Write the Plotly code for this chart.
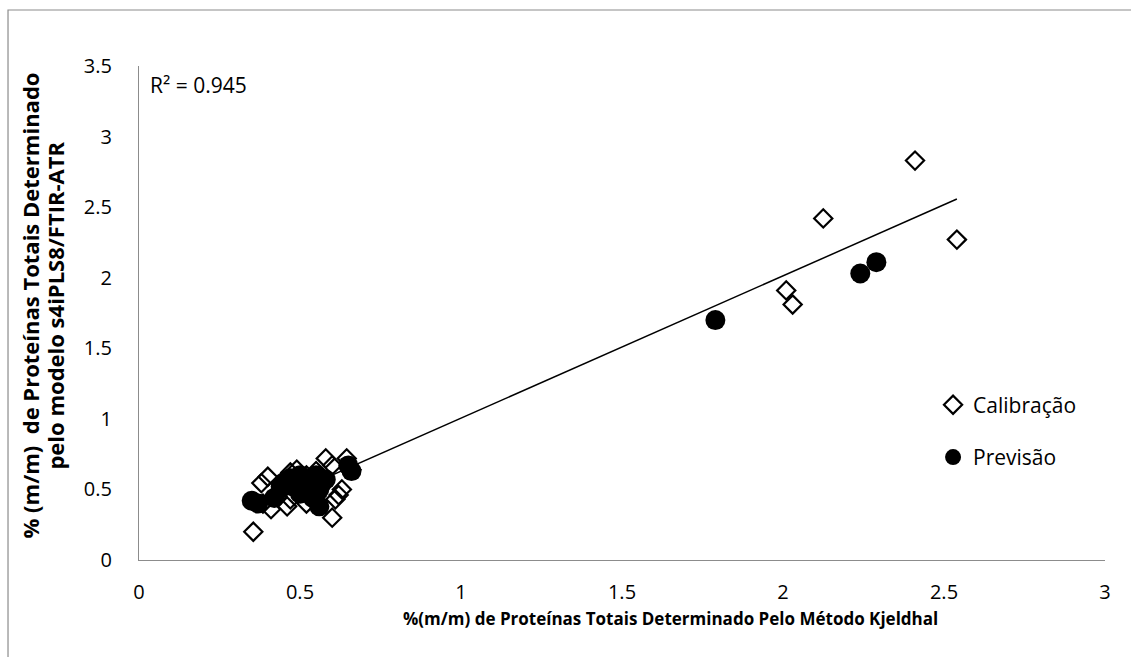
import plotly.graph_objects as go

# Calibration set: Kjeldahl reference vs. model prediction (% m/m)
calib_x = [0.355, 0.38, 0.40, 0.385, 0.41, 0.43, 0.46, 0.47, 0.47, 0.49,
           0.50, 0.52, 0.53, 0.55, 0.56, 0.58, 0.60, 0.645, 0.63, 0.62,
           0.61, 0.60, 0.57, 0.44, 0.52, 0.55, 0.66,
           2.01, 2.03, 2.125, 2.41, 2.54]
calib_y = [0.20, 0.545, 0.59, 0.40, 0.36, 0.45, 0.38, 0.43, 0.62, 0.64,
           0.55, 0.60, 0.48, 0.63, 0.52, 0.72, 0.67, 0.72, 0.50, 0.46,
           0.43, 0.30, 0.58, 0.50, 0.40, 0.45, 0.64,
           1.91, 1.81, 2.42, 2.83, 2.27]

# Prediction (external validation) set
pred_x = [0.35, 0.37, 0.42, 0.45, 0.48, 0.50, 0.52, 0.53, 0.55, 0.54,
          0.56, 0.57, 0.65, 0.66, 0.47, 0.50, 0.51, 0.53, 0.56, 0.58,
          0.44, 0.55, 1.79, 2.24, 2.29]
pred_y = [0.42, 0.40, 0.44, 0.55, 0.52, 0.47, 0.50, 0.56, 0.60, 0.44,
          0.38, 0.55, 0.67, 0.63, 0.58, 0.60, 0.53, 0.47, 0.50, 0.57,
          0.52, 0.56, 1.70, 2.03, 2.11]

# Linear trend of the calibration set
trend_slope = 1.008
trend_intercept = -0.003
r_squared = 0.945

x_ticks = [0, 0.5, 1, 1.5, 2, 2.5, 3]
y_ticks = [0, 0.5, 1, 1.5, 2, 2.5, 3, 3.5]

x_title = "%(m/m) de Proteínas Totais Determinado Pelo Método Kjeldhal"
y_title_lines = ["% (m/m)  de Proteínas Totais Determinado",
                 "pelo modelo s4iPLS8/FTIR-ATR"]

FONT = "Open Sans"
AXIS_GREY = "#8c8c8c"

tx = [min(calib_x), max(calib_x)]
ty = [trend_slope * v + trend_intercept for v in tx]

fig = go.Figure()

fig.add_trace(go.Scatter(
    x=tx, y=ty, mode="lines", showlegend=False, hoverinfo="skip",
    line=dict(color="black", width=1.5),
))

fig.add_trace(go.Scatter(
    x=calib_x, y=calib_y, mode="markers", name="Calibração",
    legendgroup="c",
    marker=dict(symbol="diamond-open", size=14, color="black",
                line=dict(width=2.2, color="black")),
))

fig.add_trace(go.Scatter(
    x=pred_x, y=pred_y, mode="markers", name="Previsão",
    legendgroup="p",
    marker=dict(symbol="circle", size=20, color="black",
                line=dict(width=0)),
))

fig.add_annotation(
    xref="paper", yref="paper", x=0.009, y=0.962, xanchor="left", yanchor="middle",
    text=f"R² = {r_squared}", showarrow=False,
    font=dict(family=FONT, size=21, color="black"),
)

# Axis titles
fig.add_annotation(
    xref="paper", yref="paper", x=0.55, y=-0.119, xanchor="center", yanchor="middle",
    text=f"<b>{x_title}</b>", showarrow=False,
    font=dict(family=FONT, size=17, color="black"),
)
for xp, line in zip([-0.113, -0.087], y_title_lines):
    fig.add_annotation(
        xref="paper", yref="paper", x=xp, y=0.515, xanchor="center", yanchor="middle",
        text=f"<b>{line}</b>", showarrow=False, textangle=-90,
        font=dict(family=FONT, size=22, color="black"),
    )

# Outer chart-area border
fig.add_shape(
    type="rect", xref="paper", yref="paper",
    x0=-0.1356, y0=-0.25, x1=1.04, y1=1.1134,
    line=dict(color=AXIS_GREY, width=1.2), layer="below",
)

fig.update_layout(
    width=1131, height=657,
    margin=dict(l=139, r=26, t=66, b=97),
    paper_bgcolor="white", plot_bgcolor="white",
    font=dict(family=FONT, size=20, color="black"),
    showlegend=True,
    legend=dict(
        x=0.822, y=0.355, xanchor="left", yanchor="top",
        bgcolor="rgba(0,0,0,0)", borderwidth=0,
        font=dict(family=FONT, size=21, color="black"),
        tracegroupgap=22, itemwidth=30,
    ),
    xaxis=dict(
        range=[0, 3], tickvals=x_ticks, ticktext=[f"{v:g}" for v in x_ticks],
        showgrid=False, zeroline=False, showline=True,
        linecolor=AXIS_GREY, linewidth=1.2, ticks="", ticklabelstandoff=14,
        tickfont=dict(family=FONT, size=20),
    ),
    yaxis=dict(
        range=[0, 3.5], tickvals=y_ticks, ticktext=[f"{v:g}" for v in y_ticks],
        showgrid=False, zeroline=False, showline=True,
        linecolor=AXIS_GREY, linewidth=1.2, ticks="", ticklabelstandoff=22,
        tickfont=dict(family=FONT, size=20),
    ),
)

fig.write_html("out.html")
